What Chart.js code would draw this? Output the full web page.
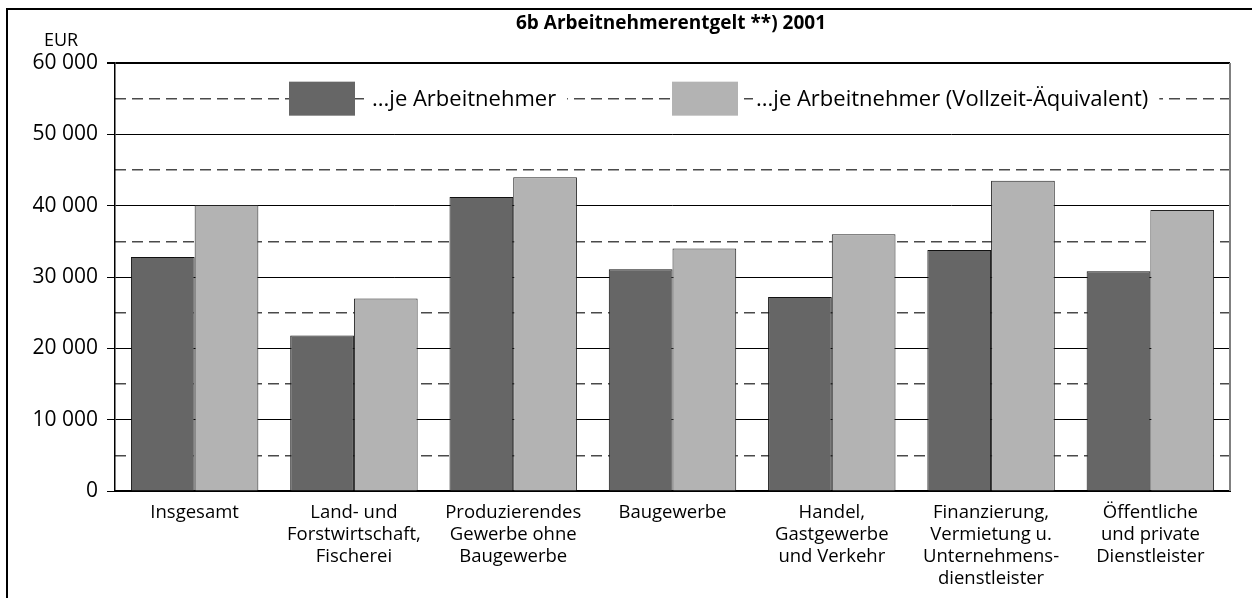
<!DOCTYPE html>
<html>
<head>
<meta charset="utf-8">
<script src="https://cdn.jsdelivr.net/npm/chart.js@4/dist/chart.umd.min.js"></script>
<style>
html,body{margin:0;padding:0;background:#fff;}
#wrap{position:relative;width:1252px;height:598px;}
</style>
</head>
<body>
<div id="wrap"><canvas id="c" width="1252" height="598"></canvas></div>
<script>
const categories = [
  ["Insgesamt"],
  ["Land- und", "Forstwirtschaft,", "Fischerei"],
  ["Produzierendes", "Gewerbe ohne", "Baugewerbe"],
  ["Baugewerbe"],
  ["Handel,", "Gastgewerbe", "und Verkehr"],
  ["Finanzierung,", "Vermietung u.", "Unternehmens-", "dienstleister"],
  ["Öffentliche", "und private", "Dienstleister"]
];
const seriesLabels = ["...je Arbeitnehmer", "...je Arbeitnehmer (Vollzeit-Äquivalent)"];
const perEmployee = [32800, 21800, 41200, 31100, 27200, 33800, 30800];
const perFullTime = [40100, 27000, 44000, 34000, 36000, 43500, 39400];
const majorTicks = [0, 10000, 20000, 30000, 40000, 50000, 60000];
const minorTicks = [5000, 15000, 25000, 35000, 45000, 55000];
const titleText = "6b Arbeitnehmerentgelt **) 2001";
const unitText = "EUR";

const FONT = "'Open Sans', 'Noto Sans', sans-serif";

function fmt(v){
  return String(v).replace(/\B(?=(\d{3})+(?!\d))/g, " ");
}

const decor = {
  id: 'decor',
  beforeDraw(chart){
    const ctx = chart.ctx;
    ctx.save();
    ctx.fillStyle = '#fff';
    ctx.fillRect(0,0,chart.width,chart.height);
    ctx.strokeStyle = '#000';
    ctx.lineWidth = 2;
    ctx.beginPath();
    ctx.moveTo(7, 598);
    ctx.lineTo(7, 9);
    ctx.lineTo(1252, 9);
    ctx.stroke();
    ctx.fillStyle = '#000';
    ctx.font = "bold 19px " + FONT;
    ctx.textAlign = 'center';
    ctx.textBaseline = 'middle';
    ctx.fillText(titleText, 671, 24);
    ctx.font = "18px " + FONT;
    ctx.fillText(unitText, 61, 41);
    ctx.restore();
  },
  afterDatasetsDraw(chart){
    const ctx = chart.ctx;
    const a = chart.chartArea;
    ctx.save();
    ctx.strokeStyle = '#808080';
    ctx.lineWidth = 2;
    ctx.beginPath();
    ctx.moveTo(a.right, a.top);
    ctx.lineTo(a.right, a.bottom);
    ctx.stroke();
    const yc = chart.scales.y.getPixelForValue(55000);
    const boxes = [{x:289, tx:372}, {x:672, tx:756}];
    ctx.font = "22px " + FONT;
    ctx.textBaseline = 'middle';
    ctx.textAlign = 'left';
    chart.data.datasets.forEach((ds, i) => {
      const b = boxes[i];
      ctx.fillStyle = ds.backgroundColor;
      ctx.fillRect(b.x, yc - 17, 66, 34);
      const w = ctx.measureText(ds.label).width;
      ctx.fillStyle = '#fff';
      ctx.fillRect(b.tx - 3, yc - 14, w + 14, 28);
      ctx.fillStyle = '#000';
      ctx.fillText(ds.label, b.tx, yc + 1);
    });
    ctx.restore();
  }
};

new Chart(document.getElementById('c'), {
  type: 'bar',
  data: {
    labels: categories,
    datasets: [
      { label: seriesLabels[0], data: perEmployee, backgroundColor: '#666666', borderColor: '#111', borderWidth: 1, borderSkipped: 'bottom' },
      { label: seriesLabels[1], data: perFullTime, backgroundColor: '#b3b3b3', borderColor: '#222', borderWidth: 1, borderSkipped: 'bottom' }
    ]
  },
  plugins: [decor],
  options: {
    responsive: false,
    animation: false,
    layout: { padding: { left: 8, right: 22, top: 63, bottom: 0 } },
    plugins: { legend: { display: false }, title: { display: false }, tooltip: { enabled: false } },
    datasets: { bar: { categoryPercentage: 0.8, barPercentage: 1.0 } },
    scales: {
      x: {
        offset: true,
        grid: { display: false },
        border: { display: true, color: '#000', width: 2 },
        ticks: { color: '#000', font: { family: FONT, size: 18.5, lineHeight: 1.19 }, padding: 3, maxRotation: 0, autoSkip: false },
        afterFit(s){ s.height = 107; }
      },
      y: {
        min: 0, max: 60000,
        afterBuildTicks(s){ s.ticks = majorTicks.map(v => ({value: v})); },
        grid: { color: '#000', lineWidth: c => (c.tick && c.tick.value === 60000) ? 2 : 1, tickLength: 8, tickColor: '#000', drawTicks: true },
        border: { display: true, color: '#000', width: 1.5 },
        ticks: { color: '#000', font: { family: FONT, size: 21 }, padding: 9, callback: v => fmt(v) },
        afterFit(s){ s.width = 107; }
      },
      y2: {
        position: 'left',
        min: 0, max: 60000,
        afterBuildTicks(s){ s.ticks = minorTicks.map(v => ({value: v})); },
        grid: { color: '#4a4a4a', lineWidth: 1.5, drawTicks: false, borderDash: [11, 6] },
        border: { display: false, dash: [11, 6] },
        ticks: { display: false },
        afterFit(s){ s.width = 0; }
      }
    }
  }
});
</script>
</body>
</html>
